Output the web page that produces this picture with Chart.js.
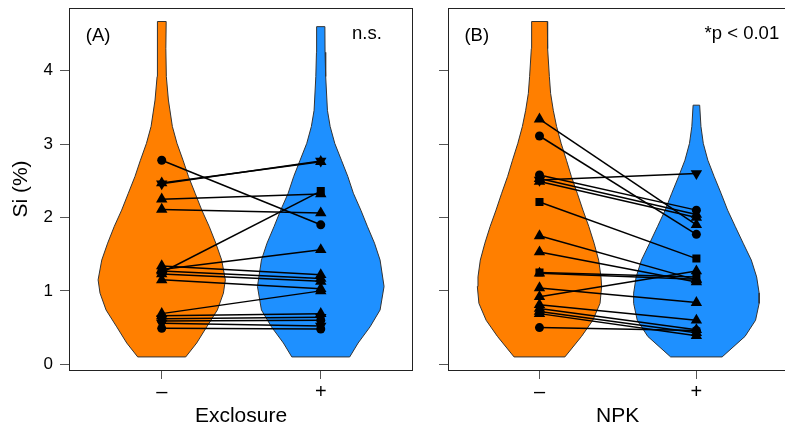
<!DOCTYPE html>
<html>
<head>
<meta charset="utf-8">
<script src="https://cdn.jsdelivr.net/npm/chart.js@4.4.1/dist/chart.umd.min.js"></script>
<style>
  html, body { margin: 0; padding: 0; background: #fff; overflow: hidden; }
  canvas { position: absolute; top: 0; }
</style>
</head>
<body>
<canvas id="panelA" width="430" height="429" style="left:0"></canvas>
<canvas id="panelB" width="362" height="429" style="left:432px"></canvas>
<script>
const groups = ['–', '+'];
const groupX = [1, 2];
const yTicks = [0, 1, 2, 3, 4];

// (A) Exclosure: paired plot values, Si (%) without / with exclosure
const exclMinus = [2.78, 2.47, 2.46, 2.25, 2.11, 1.25, 1.29, 1.34, 1.27, 1.23, 1.15, 0.69, 0.66, 0.62, 0.59, 0.56, 0.49];
const exclPlus  = [1.90, 2.76, 2.77, 2.32, 2.06, 2.36, 1.56, 1.22, 1.17, 1.13, 1.03, 1.00, 0.69, 0.64, 0.60, 0.52, 0.48];
const exclShape = ['circle', 'up', 'down', 'up', 'up', 'square', 'up', 'up', 'up', 'up', 'up', 'up', 'up', 'down', 'circle', 'down', 'circle'];

// (B) NPK
const npkMinus = [3.34, 3.11, 2.58, 2.51, 2.53, 2.49, 2.21, 1.75, 1.53, 1.25, 1.24, 1.04, 0.92, 0.81, 0.76, 0.72, 0.69, 0.50];
const npkPlus  = [1.90, 1.77, 2.10, 2.60, 2.04, 2.00, 1.44, 1.15, 1.12, 1.19, 1.16, 0.84, 1.27, 0.60, 0.47, 0.43, 0.39, 0.46];
const npkShape = ['up', 'circle', 'circle', 'down', 'up', 'up', 'square', 'up', 'up', 'square', 'up', 'up', 'up', 'up', 'up', 'up', 'up', 'circle'];

// violin outlines: Si level (bottom to top) and half-width in x units
const exclMinusLevels = [0.10, 0.29, 0.51, 0.74, 0.97, 1.15, 1.42, 1.65, 1.88, 2.10, 2.33, 2.56, 2.78, 3.01, 3.24, 3.60, 3.92, 4.30, 4.67];
const exclMinusWidth  = [0.151, 0.220, 0.283, 0.350, 0.388, 0.400, 0.377, 0.340, 0.298, 0.252, 0.210, 0.168, 0.134, 0.096, 0.067, 0.042, 0.029, 0.026, 0.028];
const exclPlusLevels = [0.10, 0.29, 0.51, 0.74, 1.06, 1.42, 1.65, 1.88, 2.10, 2.33, 2.56, 2.78, 3.01, 3.24, 3.46, 3.92, 4.25, 4.60];
const exclPlusWidth  = [0.182, 0.235, 0.310, 0.373, 0.398, 0.373, 0.338, 0.293, 0.252, 0.205, 0.170, 0.130, 0.088, 0.059, 0.042, 0.031, 0.027, 0.026];
const npkMinusLevels = [0.10, 0.38, 0.60, 0.83, 1.06, 1.19, 1.42, 1.65, 1.88, 2.10, 2.33, 2.56, 2.78, 3.01, 3.24, 3.46, 3.69, 3.92, 4.30, 4.67];
const npkMinusWidth  = [0.162, 0.268, 0.340, 0.386, 0.396, 0.392, 0.377, 0.348, 0.314, 0.277, 0.241, 0.203, 0.172, 0.138, 0.109, 0.088, 0.071, 0.063, 0.052, 0.050];
const npkPlusLevels = [0.10, 0.38, 0.60, 0.83, 0.97, 1.19, 1.42, 1.65, 1.88, 2.10, 2.33, 2.56, 2.78, 3.01, 3.24, 3.53];
const npkPlusWidth  = [0.164, 0.310, 0.377, 0.400, 0.400, 0.384, 0.350, 0.298, 0.247, 0.199, 0.157, 0.113, 0.073, 0.044, 0.029, 0.021];

const panelTags = ['(A)', '(B)'];
const panelNotes = ['n.s.', '*p < 0.01'];
const xTitles = ['Exclosure', 'NPK'];
const yTitle = 'Si (%)';

const ORANGE = '#FF7F00';
const BLUE = '#1E90FF';
const FONT = "'Liberation Sans', Arial, sans-serif";

Chart.defaults.font.family = FONT;
Chart.defaults.color = '#000';

const markerStyle = {
  circle: { style: 'circle', rot: 0, r: 4.5 },
  up:     { style: 'triangle', rot: 0, r: 6.6 },
  down:   { style: 'triangle', rot: 180, r: 6.6 },
  square: { style: 'rect', rot: 0, r: 5.7 }
};

// outline path + a fill path that starts/ends at the widest level
function violin(center, levels, widths) {
  const n = levels.length;
  const k = widths.indexOf(Math.max(...widths));
  const L = i => ({ x: center - widths[i], y: levels[i] });
  const R = i => ({ x: center + widths[i], y: levels[i] });
  const area = [];
  for (let i = k; i < n; i++) area.push(L(i));
  for (let i = n - 1; i >= 0; i--) area.push(R(i));
  for (let i = 0; i <= k; i++) area.push(L(i));
  area.push(R(k));
  const outline = [];
  for (let i = 0; i < n; i++) outline.push(L(i));
  for (let i = n - 1; i >= 0; i--) outline.push(R(i));
  outline.push(L(0));
  return { area, outline };
}

const framePlugin = {
  id: 'frame',
  afterDatasetsDraw(chart) {
    const { ctx, chartArea: a } = chart;
    ctx.save();
    ctx.strokeStyle = '#222';
    ctx.lineWidth = 1;
    ctx.strokeRect(a.left + 0.5, a.top + 0.5, a.right - a.left - 1, a.bottom - a.top);
    ctx.restore();
  }
};

const textPlugin = {
  id: 'panelText',
  afterDatasetsDraw(chart, args, opts) {
    const { ctx, scales: { x, y } } = chart;
    ctx.save();
    ctx.fillStyle = '#000';
    ctx.font = '18.5px ' + FONT;
    ctx.textBaseline = 'middle';
    ctx.textAlign = 'center';
    ctx.fillText(opts.tag, x.getPixelForValue(0.6), y.getPixelForValue(4.48));
    ctx.fillText(opts.note, x.getPixelForValue(2.29), y.getPixelForValue(4.50));
    ctx.restore();
  }
};

function makePanel(id, p) {
  const datasets = [];
  const markers = [];
  const styles = [], rots = [], radii = [];
  [[1, p.minus], [2, p.plus]].forEach(([gx, vals]) => {
    vals.forEach((v, i) => {
      const m = markerStyle[p.shape[i]];
      markers.push({ x: gx, y: v });
      styles.push(m.style); rots.push(m.rot); radii.push(m.r);
    });
  });
  datasets.push({
    type: 'line', data: markers, showLine: false, order: 0,
    pointStyle: styles, rotation: rots, pointRadius: radii,
    pointBackgroundColor: '#000', pointBorderWidth: 0
  });
  p.minus.forEach((v, i) => {
    datasets.push({
      type: 'line', data: [{ x: 1, y: v }, { x: 2, y: p.plus[i] }], order: 1,
      borderColor: '#000', borderWidth: 1.5, pointRadius: 0, fill: false
    });
  });
  p.violins.forEach(vio => {
    const shape = violin(vio.x, vio.levels, vio.widths);
    datasets.push({
      type: 'line', data: shape.outline, order: 2, fill: false,
      borderColor: '#333', borderWidth: 1, pointRadius: 0, borderJoinStyle: 'round'
    });
    datasets.push({
      type: 'line', data: shape.area, order: 3, fill: 'shape',
      backgroundColor: vio.color, borderColor: 'rgba(0,0,0,0)', borderWidth: 0, pointRadius: 0
    });
  });

  return new Chart(document.getElementById(id), {
    type: 'line',
    data: { datasets },
    plugins: [framePlugin, textPlugin],
    options: {
      responsive: false,
      animation: false,
      devicePixelRatio: 1,
      events: [],
      layout: { padding: p.padding },
      plugins: {
        legend: { display: false },
        tooltip: { enabled: false },
        panelText: { tag: p.tag, note: p.note }
      },
      scales: {
        x: {
          type: 'linear', min: 0.417, max: 2.58,
          afterBuildTicks: s => { s.ticks = groupX.map(v => ({ value: v })); },
          afterFit: s => { s.height = 59; s.paddingLeft = 0; s.paddingRight = 0; },
          grid: { drawOnChartArea: false, tickLength: 9, color: '#555' },
          border: { display: false },
          ticks: {
            autoSkip: false, maxRotation: 0, padding: 1, font: { size: 20 },
            callback: v => groups[groupX.indexOf(v)] ?? ''
          },
          title: { display: true, text: p.xTitle, font: { size: 21 }, padding: { top: 0, bottom: 0 } }
        },
        y: {
          type: 'linear', min: -0.078, max: 4.854,
          afterBuildTicks: s => { s.ticks = yTicks.map(v => ({ value: v })); },
          afterFit: s => { s.width = p.yWidth; s.paddingTop = 0; s.paddingBottom = 0; },
          grid: { drawOnChartArea: false, tickLength: 9, color: '#555' },
          border: { display: false },
          ticks: { display: p.yLabels, padding: 7, font: { size: 17 } },
          title: { display: p.yLabels, text: yTitle, font: { size: 21 }, padding: { top: 9, bottom: 0 } }
        }
      }
    }
  });
}

makePanel('panelA', {
  minus: exclMinus, plus: exclPlus, shape: exclShape,
  violins: [
    { x: 1, levels: exclMinusLevels, widths: exclMinusWidth, color: ORANGE },
    { x: 2, levels: exclPlusLevels, widths: exclPlusWidth, color: BLUE }
  ],
  tag: panelTags[0], note: panelNotes[0], xTitle: xTitles[0],
  yLabels: true, yWidth: 69,
  padding: { top: 8, right: 17, bottom: 0, left: 0 }
});

makePanel('panelB', {
  minus: npkMinus, plus: npkPlus, shape: npkShape,
  violins: [
    { x: 1, levels: npkMinusLevels, widths: npkMinusWidth, color: ORANGE },
    { x: 2, levels: npkPlusLevels, widths: npkPlusWidth, color: BLUE }
  ],
  tag: panelTags[1], note: panelNotes[1], xTitle: xTitles[1],
  yLabels: false, yWidth: 16,
  padding: { top: 8, right: 2, bottom: 0, left: 0 }
});
</script>
</body>
</html>
